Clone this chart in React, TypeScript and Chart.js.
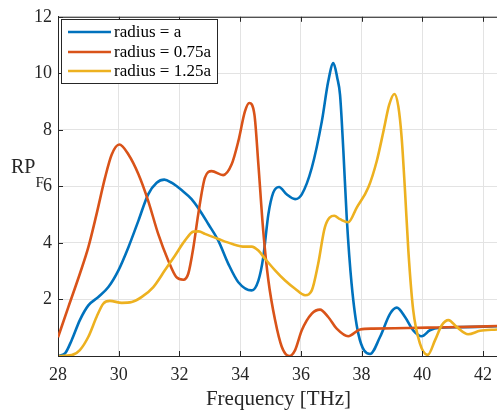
import React, { useEffect, useRef } from "react";
import { Chart, registerables } from "chart.js";

Chart.register(...registerables);

const seriesLabels = ["radius = a", "radius = 0.75a", "radius = 1.25a"];
const seriesColors = ["#0072BD", "#D95319", "#EDB120"];

const xTicks = [28, 30, 32, 34, 36, 38, 40, 42];
const yTicks = [2, 4, 6, 8, 10, 12];

const freqA = [28, 28.23, 28.45, 28.72, 29.0, 29.33, 29.66, 29.99, 30.32, 30.65, 30.97, 31.25, 31.5, 31.74, 32.07, 32.4, 32.64, 32.95, 33.28, 33.61, 33.94, 34.38, 34.6, 34.76, 34.93, 35.09, 35.28, 35.53, 35.81, 36.03, 36.36, 36.69, 36.9, 37.07, 37.2, 37.29, 37.4, 37.51, 37.67, 37.89, 38.28, 38.61, 38.94, 39.16, 39.43, 39.7, 39.98, 40.25, 40.58, 41.2, 41.8, 42.46];
const rpA = [0, 0.09, 0.56, 1.27, 1.79, 2.09, 2.44, 3.03, 3.85, 4.79, 5.72, 6.13, 6.24, 6.13, 5.87, 5.55, 5.2, 4.67, 4.08, 3.26, 2.61, 2.32, 2.67, 3.49, 5.02, 5.78, 5.98, 5.72, 5.55, 5.72, 6.66, 8.3, 9.71, 10.36, 9.83, 9.24, 7.25, 4.9, 2.56, 0.8, 0.07, 0.68, 1.5, 1.71, 1.38, 0.91, 0.7, 0.91, 1.0, 1.02, 1.03, 1.05];

const freqB = [28, 28.34, 28.72, 29.0, 29.27, 29.55, 29.77, 30.02, 30.32, 30.65, 30.97, 31.3, 31.63, 31.9, 32.13, 32.29, 32.46, 32.62, 32.84, 33.06, 33.44, 33.72, 33.94, 34.16, 34.3, 34.47, 34.6, 34.76, 34.93, 35.15, 35.37, 35.62, 35.81, 36.03, 36.36, 36.63, 36.9, 37.18, 37.56, 37.95, 38.39, 39.5, 40.5, 41.5, 42.46];
const rpB = [0.66, 1.73, 2.91, 3.85, 5.02, 6.31, 7.13, 7.48, 7.13, 6.43, 5.49, 4.32, 3.38, 2.79, 2.7, 2.91, 3.85, 5.02, 6.31, 6.54, 6.4, 6.78, 7.6, 8.66, 8.95, 8.54, 6.78, 4.43, 2.67, 1.27, 0.33, 0.0, 0.21, 0.91, 1.5, 1.64, 1.38, 0.97, 0.7, 0.94, 0.97, 0.99, 1.01, 1.03, 1.06];

const freqC = [28, 28.45, 28.72, 29.0, 29.27, 29.49, 29.71, 30.1, 30.43, 30.76, 31.14, 31.52, 31.85, 32.18, 32.46, 32.64, 32.84, 33.28, 33.72, 34.16, 34.38, 34.6, 34.82, 35.15, 35.48, 35.81, 36.14, 36.36, 36.57, 36.79, 37.1, 37.29, 37.56, 37.84, 38.22, 38.5, 38.72, 38.91, 39.08, 39.21, 39.32, 39.43, 39.54, 39.7, 39.92, 40.18, 40.42, 40.64, 40.86, 41.13, 41.51, 41.9, 42.46];
const rpC = [0, 0.03, 0.21, 0.68, 1.38, 1.85, 1.95, 1.88, 1.91, 2.09, 2.44, 3.03, 3.55, 4.08, 4.4, 4.41, 4.32, 4.14, 3.97, 3.87, 3.87, 3.73, 3.44, 3.03, 2.67, 2.38, 2.15, 2.32, 3.26, 4.55, 4.96, 4.84, 4.73, 5.25, 5.96, 6.9, 7.95, 8.89, 9.27, 8.83, 7.72, 5.84, 3.73, 1.62, 0.45, 0.04, 0.56, 1.09, 1.27, 1.03, 0.77, 0.89, 0.94];

const xTitle = "Frequency [THz]";
const yTitleMain = "RP";
const yTitleSub = "F";

const SERIF = "'Liberation Serif', 'DejaVu Serif', serif";
const AXIS_COLOR = "#262626";
const LINE_W = 2.6;

const toPoints = (xs: number[], ys: number[]) => xs.map((x, i) => ({ x, y: ys[i] }));

const decorPlugin = {
  id: "decor",
  afterDraw(chart: any) {
    const { ctx, chartArea } = chart;
    const { left, right, top, bottom } = chartArea;
    const xs = chart.scales.x;
    const ys = chart.scales.y;
    ctx.save();
    // top border
    ctx.strokeStyle = AXIS_COLOR;
    ctx.lineWidth = 1;
    ctx.beginPath();
    ctx.moveTo(left, top + 0.5);
    ctx.lineTo(right, top + 0.5);
    ctx.stroke();
    // inward ticks
    const tl = 5;
    ctx.beginPath();
    xTicks.forEach((v) => {
      const px = Math.round(xs.getPixelForValue(v)) + 0.5;
      ctx.moveTo(px, bottom);
      ctx.lineTo(px, bottom - tl);
      ctx.moveTo(px, top);
      ctx.lineTo(px, top + tl);
    });
    yTicks.forEach((v) => {
      const py = Math.round(ys.getPixelForValue(v)) + 0.5;
      ctx.moveTo(left, py);
      ctx.lineTo(left + tl, py);
    });
    ctx.stroke();

    // axis titles
    ctx.fillStyle = AXIS_COLOR;
    ctx.textAlign = "center";
    ctx.textBaseline = "alphabetic";
    ctx.font = `21px ${SERIF}`;
    ctx.fillText(xTitle, (left + right) / 2 + 1, 405);
    ctx.textAlign = "left";
    ctx.font = `20px ${SERIF}`;
    ctx.fillText(yTitleMain, 11, 173);
    const w = ctx.measureText(yTitleMain).width;
    ctx.font = `15px ${SERIF}`;
    ctx.fillText(yTitleSub, 11 + w, 187);

    // legend
    const bx = 61, by = 19, bw = 156, bh = 64;
    ctx.fillStyle = "#ffffff";
    ctx.fillRect(bx, by, bw, bh);
    ctx.strokeStyle = AXIS_COLOR;
    ctx.lineWidth = 1;
    ctx.strokeRect(bx + 0.5, by + 0.5, bw, bh);
    const rows = [32, 52, 71];
    ctx.font = `17px ${SERIF}`;
    ctx.textBaseline = "middle";
    seriesLabels.forEach((label, i) => {
      ctx.strokeStyle = seriesColors[i];
      ctx.lineWidth = LINE_W;
      ctx.beginPath();
      ctx.moveTo(68, rows[i]);
      ctx.lineTo(111, rows[i]);
      ctx.stroke();
      ctx.fillStyle = "#000000";
      ctx.fillText(label, 114, rows[i] + 1);
    });
    ctx.restore();
  },
};

export default function App() {
  const ref = useRef<HTMLCanvasElement>(null);
  useEffect(() => {
    if (!ref.current) return;
    const datasets = [
      toPoints(freqA, rpA),
      toPoints(freqB, rpB),
      toPoints(freqC, rpC),
    ].map((data, i) => ({
      label: seriesLabels[i],
      data,
      borderColor: seriesColors[i],
      backgroundColor: seriesColors[i],
      borderWidth: LINE_W,
      pointRadius: 0,
      cubicInterpolationMode: "monotone" as const,
      fill: false,
      order: 3 - i,
    }));
    const chart = new Chart(ref.current, {
      type: "line",
      data: { datasets: datasets as any },
      plugins: [decorPlugin],
      options: {
        responsive: false,
        animation: false,
        layout: { padding: { top: 15, right: 0, left: 0, bottom: 0 } },
        plugins: { legend: { display: false }, tooltip: { enabled: false } },
        scales: {
          x: {
            type: "linear",
            min: 28,
            max: 42.46,
            afterBuildTicks: (s: any) => {
              s.ticks = xTicks.map((v) => ({ value: v }));
            },
            afterFit: (s: any) => {
              s.height = 54;
              s.paddingLeft = 0;
              s.paddingRight = 0;
            },
            ticks: {
              color: AXIS_COLOR,
              font: { family: SERIF, size: 18 },
              padding: 8,
              maxRotation: 0,
            },
            grid: { color: "#e3e3e3", drawTicks: false, lineWidth: 1 },
            border: { color: AXIS_COLOR, width: 1 },
          },
          y: {
            type: "linear",
            min: 0,
            max: 12,
            afterBuildTicks: (s: any) => {
              s.ticks = [0, ...yTicks].map((v) => ({ value: v }));
            },
            afterFit: (s: any) => {
              s.width = 58;
            },
            ticks: {
              color: AXIS_COLOR,
              font: { family: SERIF, size: 18 },
              padding: 6,
              callback: (v: any) => (v === 0 ? "" : String(v)),
            },
            grid: { color: "#e3e3e3", drawTicks: false, lineWidth: 1 },
            border: { color: AXIS_COLOR, width: 1 },
          },
        },
      },
    });
    return () => chart.destroy();
  }, []);
  return (
    <div style={{ position: "fixed", left: 0, top: 0, width: 497, height: 410, background: "#fff" }}>
      <canvas ref={ref} width={497} height={410} style={{ display: "block" }} />
    </div>
  );
}
